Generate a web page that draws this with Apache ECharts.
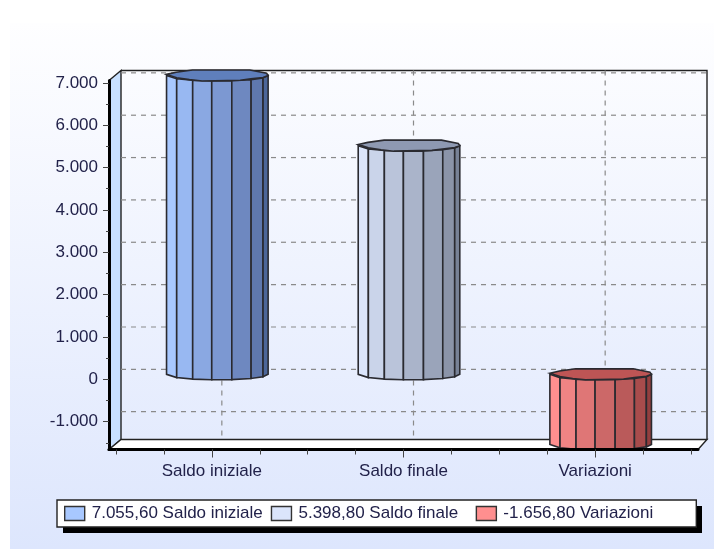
<!DOCTYPE html>
<html><head><meta charset="utf-8">
<style>html,body{margin:0;padding:0;background:#fff}#c{width:714px;height:549px}</style>
<script src="https://cdn.jsdelivr.net/npm/echarts@6/dist/echarts.min.js"></script>
</head><body><div id="c"></div>
<script>
const categories = ["Saldo iniziale", "Saldo finale", "Variazioni"];
const values = [7055.6, 5398.8, -1656.8];
const legendNames = ["7.055,60 Saldo iniziale", "5.398,80 Saldo finale", "-1.656,80 Variazioni"];
const tickValues = [-1000, 0, 1000, 2000, 3000, 4000, 5000, 6000, 7000];
const tickLabels = ["-1.000", "0", "1.000", "2.000", "3.000", "4.000", "5.000", "6.000", "7.000"];
const minorTickValues = [-1500, -500, 500, 1500, 2500, 3500, 4500, 5500, 6500];
const facetColors = [
  ["#a8c8ff","#98b8f2","#8aa8e2","#7c98d2","#6e88c0","#5f78ae","#4c6699","#3f5788"],
  ["#dbe5fb","#cad4ea","#bac4da","#aab4ca","#9aa4ba","#8b94a9","#788297","#687186"],
  ["#ff8f8f","#f08484","#df7676","#cc6868","#ba5a5a","#a84c4c","#933f3f","#803434"]
];
const topColors = ["#5f7fbc", "#8e99b2", "#bd5555"];
const legendColors = ["#a8c8ff", "#dbe5fb", "#ff8f8f"];

const yMin = Math.min(...values), yMax = Math.max(...values);
const dx = 12, dy = -10, midX = 5.5, midY = -5;
const edgeFractions = [-1, -0.8, -0.485, -0.11, 0.285, 0.665, 0.9, 1];
const topOutline = [[-1,-0.2],[-0.81,-0.6],[-0.49,-1],[0.64,-1],[0.97,-0.4],[1,0],[0.9,0.35],[0.66,0.6],[0.45,0.85],[-0.3,1],[-0.55,0.75],[-0.8,0.4]];
const outline = "#2a2a30";

function cylinder(i) {
  return function (params, api) {
    const v = api.value(1);
    const a = api.coord([api.value(0), v]);
    const b = api.coord([api.value(0), 0]);
    const r = api.size([1, 0])[0] * 0.265;
    const ry = 5.5;
    const cx = a[0] + midX;
    const yHigh = Math.min(a[1], b[1]) + midY, yLow = Math.max(a[1], b[1]) + midY;
    const arc = f => ry * Math.sqrt(Math.max(0, 1 - f * f));
    const children = [];
    for (let k = 0; k < edgeFractions.length - 1; k++) {
      const f0 = edgeFractions[k], f1 = edgeFractions[k + 1];
      children.push({
        type: "polygon",
        shape: { points: [
          [cx + r * f0, yHigh + arc(f0)], [cx + r * f1, yHigh + arc(f1)],
          [cx + r * f1, yLow + arc(f1)], [cx + r * f0, yLow + arc(f0)]
        ] },
        style: { fill: facetColors[i][k], stroke: outline, lineWidth: 1.6 }
      });
    }
    children.push({ type: "polygon",
      shape: { points: topOutline.map(p => [cx + r * p[0], yHigh + ry * p[1]]) },
      style: { fill: topColors[i], stroke: outline, lineWidth: 1.6 } });
    return { type: "group", children };
  };
}

function decor(params, api) {
  const fl = api.coord([0, yMax]), br = api.coord([1, yMin]);
  const l = fl[0], r = br[0], t = fl[1], b = br[1];
  const kids = [];
  kids.push({ type: "polygon", shape: { points: [[l, t], [l + dx, t + dy], [l + dx, b + dy], [l, b]] },
    style: { fill: "#c8e0ff", stroke: "#222", lineWidth: 1.4 } });
  kids.push({ type: "polygon", shape: { points: [[l, b], [l + dx, b + dy], [r + dx - 3, b + dy], [r, b]] },
    style: { fill: "#ffffff", stroke: "#222", lineWidth: 1.4 } });
  kids.push({ type: "polyline", shape: { points: [[l + dx, t + dy], [r + dx - 3, t + dy], [r + dx - 3, b + dy]] },
    style: { fill: null, stroke: "#222", lineWidth: 1.4 } });
  tickValues.forEach(v => {
    const y = api.coord([0, v])[1] + dy;
    kids.push({ type: "line", shape: { x1: l + dx, y1: y, x2: r + dx - 3, y2: y },
      style: { stroke: "#8a8a8a", lineWidth: 1.2, lineDash: [5, 5] } });
  });
  return { type: "group", children: kids };
}

function backVerticals(params, api) {
  const x = api.coord([api.value(0), 0])[0] + 10;
  const yTop = api.coord([api.value(0), yMax])[1] + dy, yBot = api.coord([api.value(0), yMin])[1] + dy;
  return { type: "line", shape: { x1: x, y1: yTop, x2: x, y2: yBot },
    style: { stroke: "#8a8a8a", lineWidth: 1.2, lineDash: [5, 5] } };
}

const font = "Liberation Sans";
const chart = echarts.init(document.getElementById("c"), null, { renderer: "canvas" });
chart.setOption({
  animation: false,
  backgroundColor: "#ffffff",
  grid: [
    { left: 109, right: 16, top: 80.5, bottom: 99.5 },
    { left: 116, right: 23, top: 80.5, bottom: 99.5 }
  ],
  graphic: [
    { type: "rect", z: 0, silent: true, shape: { x: 10, y: 23, width: 704, height: 526 },
      style: { fill: { type: "linear", x: 0, y: 0, x2: 0, y2: 1, colorStops: [
        { offset: 0, color: "#fefeff" }, { offset: 1, color: "#dde6fd" }] } } },
    { type: "rect", z: 3, silent: true, shape: { x: 63, y: 506, width: 639, height: 27 }, style: { fill: "#000" } }
  ],
  xAxis: [
    { type: "value", gridIndex: 0, min: 0, max: 1, z: 6, splitLine: { show: false },
      axisLine: { show: true, onZero: false, lineStyle: { color: "#000", width: 3 } },
      axisTick: { show: false }, axisLabel: { show: false } },
    { type: "category", gridIndex: 1, data: categories, z: 6,
      axisLine: { show: false, onZero: false },
      axisTick: { show: true, alignWithLabel: true, length: 8, lineStyle: { color: "#444", width: 1 } },
      axisLabel: { fontFamily: font, fontSize: 17, color: "#22224a", margin: 13 } },
    { type: "value", gridIndex: 1, min: 0, max: 12, interval: 1, position: "bottom", z: 6,
      axisLine: { show: false, onZero: false }, splitLine: { show: false },
      axisLabel: { show: false },
      axisTick: { show: true, length: 5, lineStyle: { color: "#444", width: 1 } } }
  ],
  yAxis: [
    { type: "value", gridIndex: 0, min: yMin, max: yMax, z: 6, splitLine: { show: false },
      axisLine: { show: true, onZero: false, lineStyle: { color: "#000", width: 3 } },
      axisTick: { show: true, length: 6, customValues: tickValues, lineStyle: { color: "#444", width: 1 } },
      axisLabel: { customValues: tickValues, fontFamily: font, fontSize: 17, color: "#22224a", margin: 11,
        formatter: v => tickLabels[tickValues.indexOf(v)] } },
    { type: "value", gridIndex: 0, min: yMin, max: yMax, z: 6, position: "left", splitLine: { show: false },
      axisLine: { show: false }, axisLabel: { show: false },
      axisTick: { show: true, length: 3, customValues: minorTickValues, lineStyle: { color: "#444", width: 1 } } },
    { type: "value", gridIndex: 1, min: yMin, max: yMax, show: false }
  ],
  legend: {
    left: 57, top: 500, orient: "horizontal",
    data: legendNames.map((n, i) => ({ name: n, icon: "rect",
      itemStyle: { color: legendColors[i], borderColor: "#333", borderWidth: 1.4 } })),
    formatter: n => n === legendNames[1] ? n + "\u00a0\u00a0" : n,
    itemWidth: 20, itemHeight: 14, itemGap: 8,
    padding: [5, 43, 5, 7],
    backgroundColor: "#fff", borderColor: "#222", borderWidth: 1.4,
    textStyle: { fontFamily: font, fontSize: 17, color: "#22224a", padding: [0, 0, 0, 2] },
    selectedMode: false
  },
  series: [
    { type: "custom", silent: true, z: 1, xAxisIndex: 0, yAxisIndex: 0, clip: false, data: [[0, 0]], renderItem: decor },
    { type: "custom", silent: true, z: 2, xAxisIndex: 1, yAxisIndex: 2, clip: false,
      data: categories.map((c, i) => [i, 0]), renderItem: backVerticals },
    ...values.map((v, i) => ({
      type: "custom", name: legendNames[i], silent: true, z: 3, xAxisIndex: 1, yAxisIndex: 2, clip: false,
      itemStyle: { color: legendColors[i] },
      encode: { x: 0, y: 1 }, data: [[i, v]], renderItem: cylinder(i)
    }))
  ]
});
</script></body></html>
